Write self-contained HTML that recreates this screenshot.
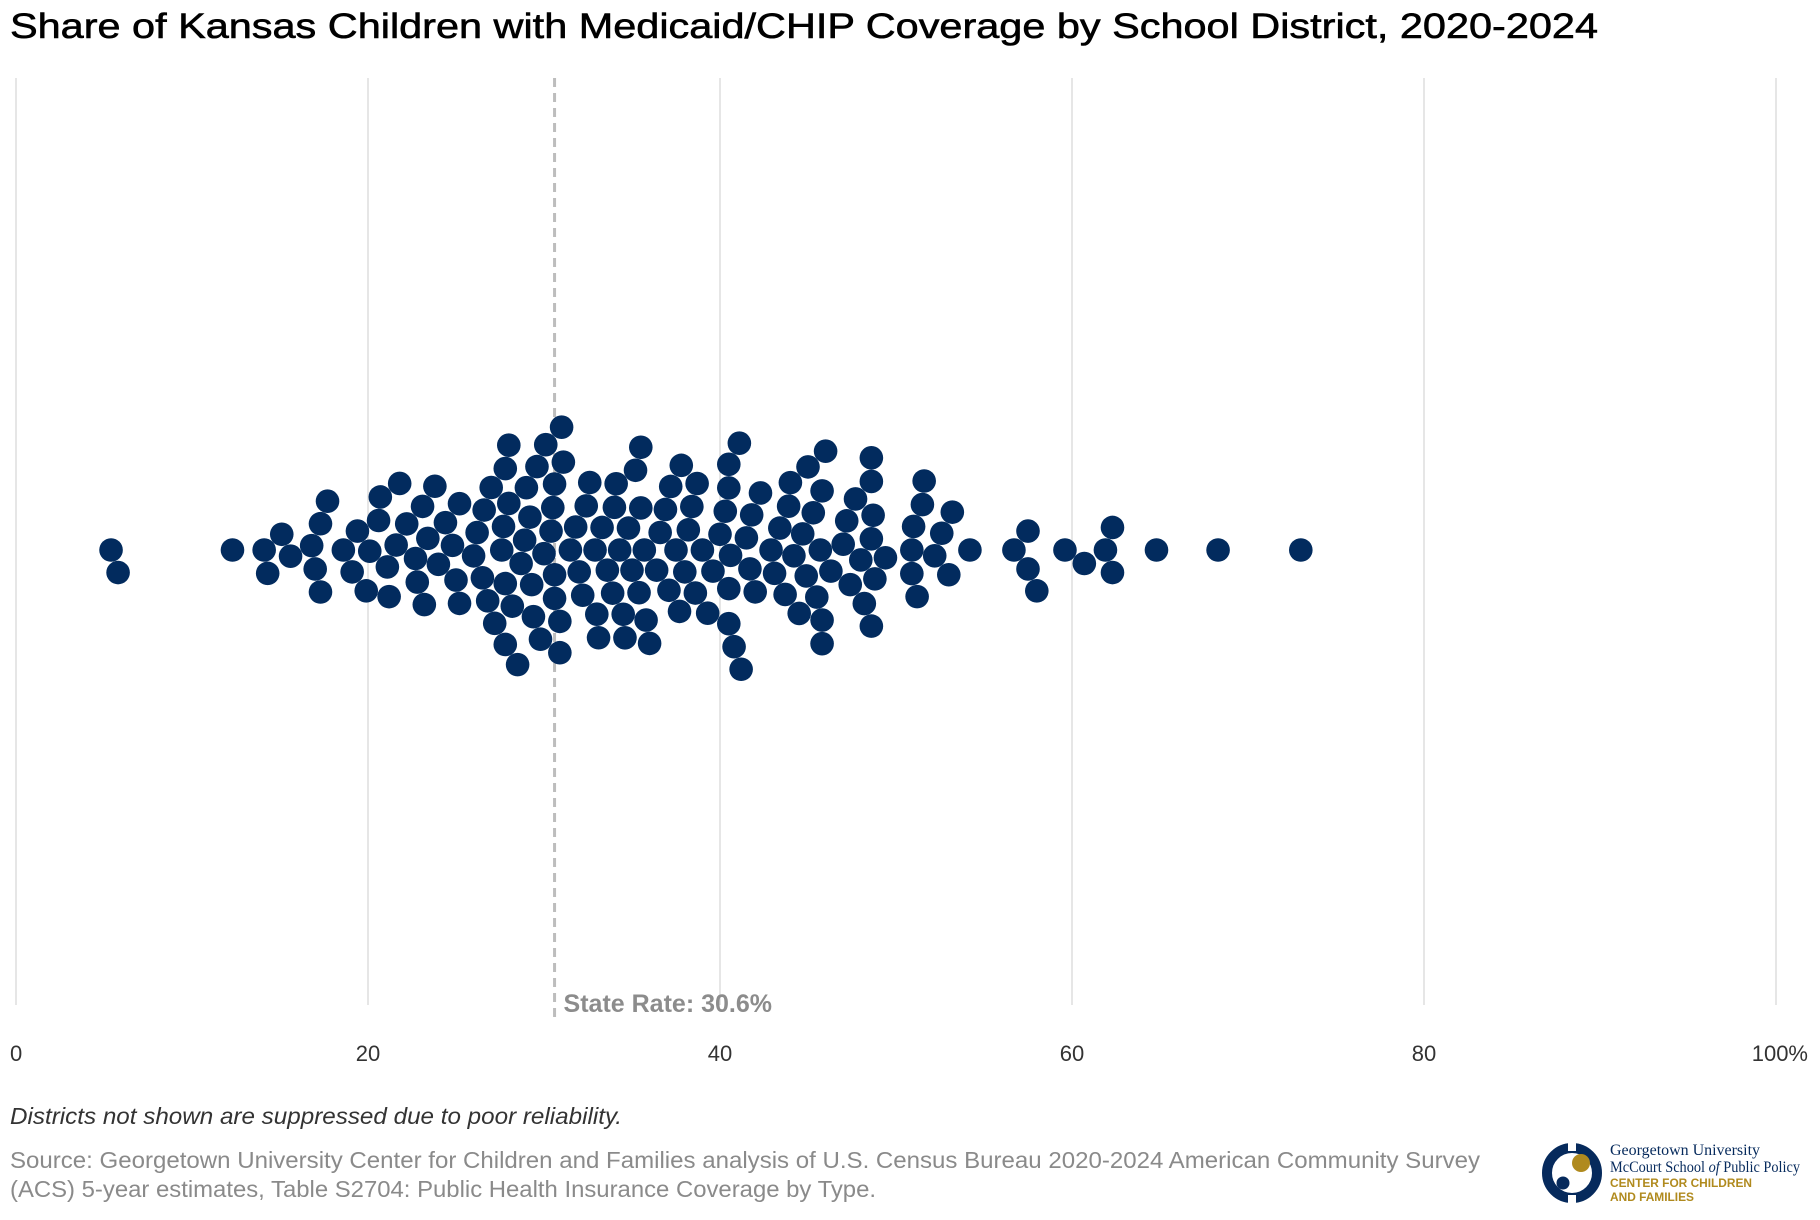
<!DOCTYPE html>
<html><head><meta charset="utf-8"><style>
html,body{margin:0;padding:0;background:#fff;}
svg{display:block;font-family:"Liberation Sans",sans-serif;}
</style></head><body>
<svg id="chart" width="1820" height="1220" viewBox="0 0 1820 1220">
<text x="10" y="38" font-size="35" fill="#000" stroke="#000" stroke-width="0.6" textLength="1588" lengthAdjust="spacingAndGlyphs">Share of Kansas Children with Medicaid/CHIP Coverage by School District, 2020-2024</text>
<g id="grid"></g>
<g id="ticks"></g>
<g id="ref"></g>
<g id="dots"></g>
<text x="10" y="1124" font-size="23" font-style="italic" fill="#333" textLength="612" lengthAdjust="spacingAndGlyphs">Districts not shown are suppressed due to poor reliability.</text>
<text x="10" y="1168" font-size="23" fill="#8a8a8a" textLength="1470" lengthAdjust="spacingAndGlyphs">Source: Georgetown University Center for Children and Families analysis of U.S. Census Bureau 2020-2024 American Community Survey</text>
<text x="10" y="1197" font-size="23" fill="#8a8a8a" textLength="866" lengthAdjust="spacingAndGlyphs">(ACS) 5-year estimates, Table S2704: Public Health Insurance Coverage by Type.</text>
<g>
<circle cx="1572" cy="1173" r="25" fill="none" stroke="#062a5c" stroke-width="10"/>
<rect x="1568" y="1143" width="8" height="8" fill="#fff"/>
<rect x="1568" y="1195" width="8" height="8" fill="#fff"/>
<circle cx="1581" cy="1163" r="9" fill="#b08a1e"/>
<circle cx="1563" cy="1183" r="6.5" fill="#062a5c"/>
<text x="1610" y="1155" font-family="Liberation Serif,serif" font-size="16" fill="#062a5c" textLength="150" lengthAdjust="spacingAndGlyphs">Georgetown University</text>
<text x="1610" y="1172" font-family="Liberation Serif,serif" font-size="16" fill="#062a5c" textLength="190" lengthAdjust="spacingAndGlyphs">McCourt School <tspan font-style="italic">of</tspan> Public Policy</text>
<text x="1610" y="1187" font-size="12" font-weight="bold" fill="#b08a1e" textLength="142" lengthAdjust="spacingAndGlyphs">CENTER FOR CHILDREN</text>
<text x="1610" y="1201" font-size="12" font-weight="bold" fill="#b08a1e" textLength="84" lengthAdjust="spacingAndGlyphs">AND FAMILIES</text>
</g>
</svg>
<script>
const values = [5.4,5.8,12.3,14.1,14.3,15.1,15.6,16.8,17.0,17.3,17.3,17.7,18.6,19.1,19.4,19.9,20.1,20.6,20.7,21.1,21.2,21.6,21.8,22.2,22.7,22.8,23.1,23.2,23.4,23.8,24.4,24.8,25.0,25.2,25.2,26.0,26.2,26.5,26.6,27.2,27.6,27.7,27.8,27.8,27.8,28.0,28.0,28.5,28.7,28.9,29.0,29.2,29.3,29.6,30.1,30.4,30.5,30.6,30.6,30.6,30.9,30.9,31.0,31.1,31.5,32.2,32.4,32.6,32.9,33.1,33.3,33.6,33.9,34.1,34.3,34.5,34.6,34.8,35.0,35.2,35.4,35.5,35.5,35.7,36.4,36.9,37.1,37.2,37.5,37.7,38.2,38.4,38.6,38.7,39.0,39.3,40.0,40.3,40.5,40.5,40.5,40.5,40.6,41.1,41.5,41.7,41.8,42.3,42.9,43.1,43.7,43.9,44.0,44.5,44.7,44.9,45.3,45.5,45.7,45.8,45.8,45.8,46.3,47.0,47.4,47.7,48.0,48.2,48.6,48.6,48.6,48.6,48.7,48.8,49.4,50.9,50.9,51.0,51.2,51.5,51.6,52.2,52.6,53.0,53.2,54.2,56.7,57.5,57.5,58.0,59.6,60.7,61.9,62.3,62.3,64.8,68.3,73.0,
 28.2,29.8,33.0,34.0,36.0,37.8,39.6,42.0,44.2,46.0,47.2,31.8,27.0,24.0,36.6,38.0,41.2,43.4,45.0,30.0,32.0,35.8,40.8,26.8,29.4];
const tickValues = [0,20,40,60,80,100];
const tickLabels = ["0","20","40","60","80","100%"];
const stateRate = [30.6];

const NS="http://www.w3.org/2000/svg";
const x0=16, x1=1776, yTop=78, yBot=1005, cy=550, R=11.8;
function xScale(v){return x0+(x1-x0)*v/100;}
function mk(tag,attrs,parent){const e=document.createElementNS(NS,tag);for(const k in attrs)e.setAttribute(k,attrs[k]);parent.appendChild(e);return e;}

const grid=document.getElementById('grid'), ticks=document.getElementById('ticks');
tickValues.forEach((t,i)=>{
  const gl=mk('line',{x1:xScale(t),x2:xScale(t),y1:yTop,y2:yBot,stroke:'#dedede','stroke-width':1.5},grid);
  
  
  const last=i===tickValues.length-1;
  const tx=mk('text',{x:i===0?xScale(t)-6:(last?xScale(t)+32:xScale(t)),y:1061,'font-size':22,fill:'#333','text-anchor':i===0?'start':(last?'end':'middle')},ticks);
  tx.textContent=tickLabels[i];
  
  
});

const ref=document.getElementById('ref');
const rl=mk('line',{x1:xScale(stateRate[0]),x2:xScale(stateRate[0]),y1:yTop,y2:1022,stroke:'#bdbdbd','stroke-width':3,'stroke-dasharray':'9,6'},ref);


const rt=mk('text',{x:xScale(stateRate[0])+9,y:1012,'font-size':25,'font-weight':'bold',fill:'#8c8c8c'},ref);
rt.textContent='State Rate: '+stateRate[0]+'%';



// greedy beeswarm layout
const sorted=values.map((v,i)=>({v,i})).sort((a,b)=>a.v-b.v);
const placed=[];const D=2*R;
sorted.forEach(p=>{
  const x=xScale(p.v);
  const near=placed.filter(q=>Math.abs(q.x-x)<D);
  const cands=[0];
  near.forEach(q=>{const dy=Math.sqrt(D*D-(q.x-x)**2)+0.01;cands.push(q.y+dy,q.y-dy);});
  cands.sort((a,b)=>Math.abs(a)-Math.abs(b));
  let y=0;
  for(const c of cands){if(near.every(q=>(q.x-x)**2+(q.y-c)**2>=D*D-0.5)){y=c;break;}}
  placed.push({x,y});
});
const dots=document.getElementById('dots');
placed.forEach(p=>{
  const c=mk('circle',{cx:p.x,cy:cy+p.y,r:R,fill:'#022b5e'},dots);
  
  
});
</script>
</body></html>
